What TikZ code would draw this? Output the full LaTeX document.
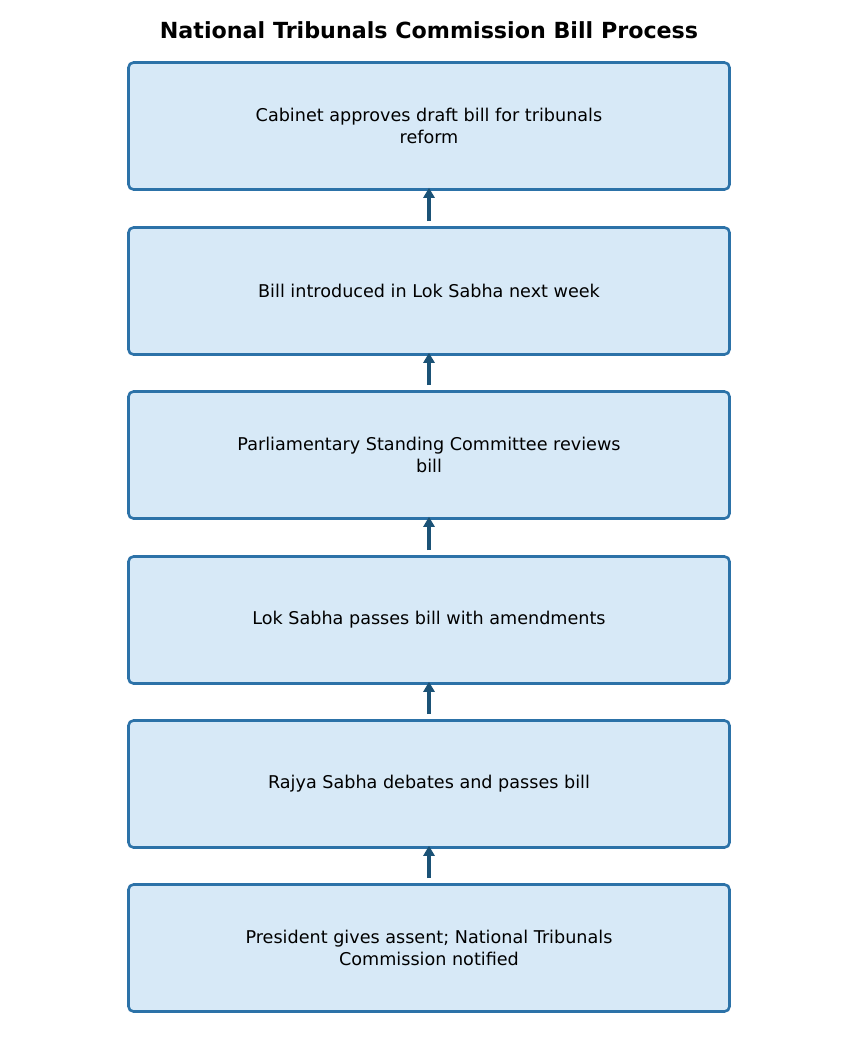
\documentclass[tikz,border=0pt]{standalone}
\usepackage{fontspec}
\setmainfont{DejaVu Sans}
\usetikzlibrary{arrows.meta}
\definecolor{boxfill}{HTML}{D7E9F7}
\definecolor{boxedge}{HTML}{2C72A8}
\definecolor{arrowc}{HTML}{1B5276}
\tikzset{
  stepbox/.style={draw=boxedge, fill=boxfill, line width=2.6pt, rounded corners=5pt,
    minimum width=601pt, minimum height=127pt, inner sep=0pt, align=center,
    font=\fontsize{17.6pt}{21.5pt}\selectfont},
  flowarrow/.style={draw=arrowc, line width=3.3pt, -{Triangle[length=10pt,width=11pt]}},
}
\begin{document}
\begin{tikzpicture}[x=1pt,y=-1pt]
\useasboundingbox (0,0) rectangle (858,1053);
\node[font=\bfseries\fontsize{22.2pt}{26pt}\selectfont] (title) at (429,30) {National Tribunals Commission Bill Process};
\node[stepbox] (b1) at (429,126) {Cabinet approves draft bill for tribunals\\reform};
\node[stepbox] (b2) at (429,291) {Bill introduced in Lok Sabha next week};
\node[stepbox] (b3) at (429,455) {Parliamentary Standing Committee reviews\\bill};
\node[stepbox] (b4) at (429,620) {Lok Sabha passes bill with amendments};
\node[stepbox] (b5) at (429,784) {Rajya Sabha debates and passes bill};
\node[stepbox] (b6) at (429,948) {President gives assent; National Tribunals\\Commission notified};
\foreach \a/\b in {b2/b1,b3/b2,b4/b3,b5/b4,b6/b5}{
  \draw[flowarrow] ([yshift=5pt]\a.north) -- ([yshift=3pt]\b.south);
}
\end{tikzpicture}
\end{document}
